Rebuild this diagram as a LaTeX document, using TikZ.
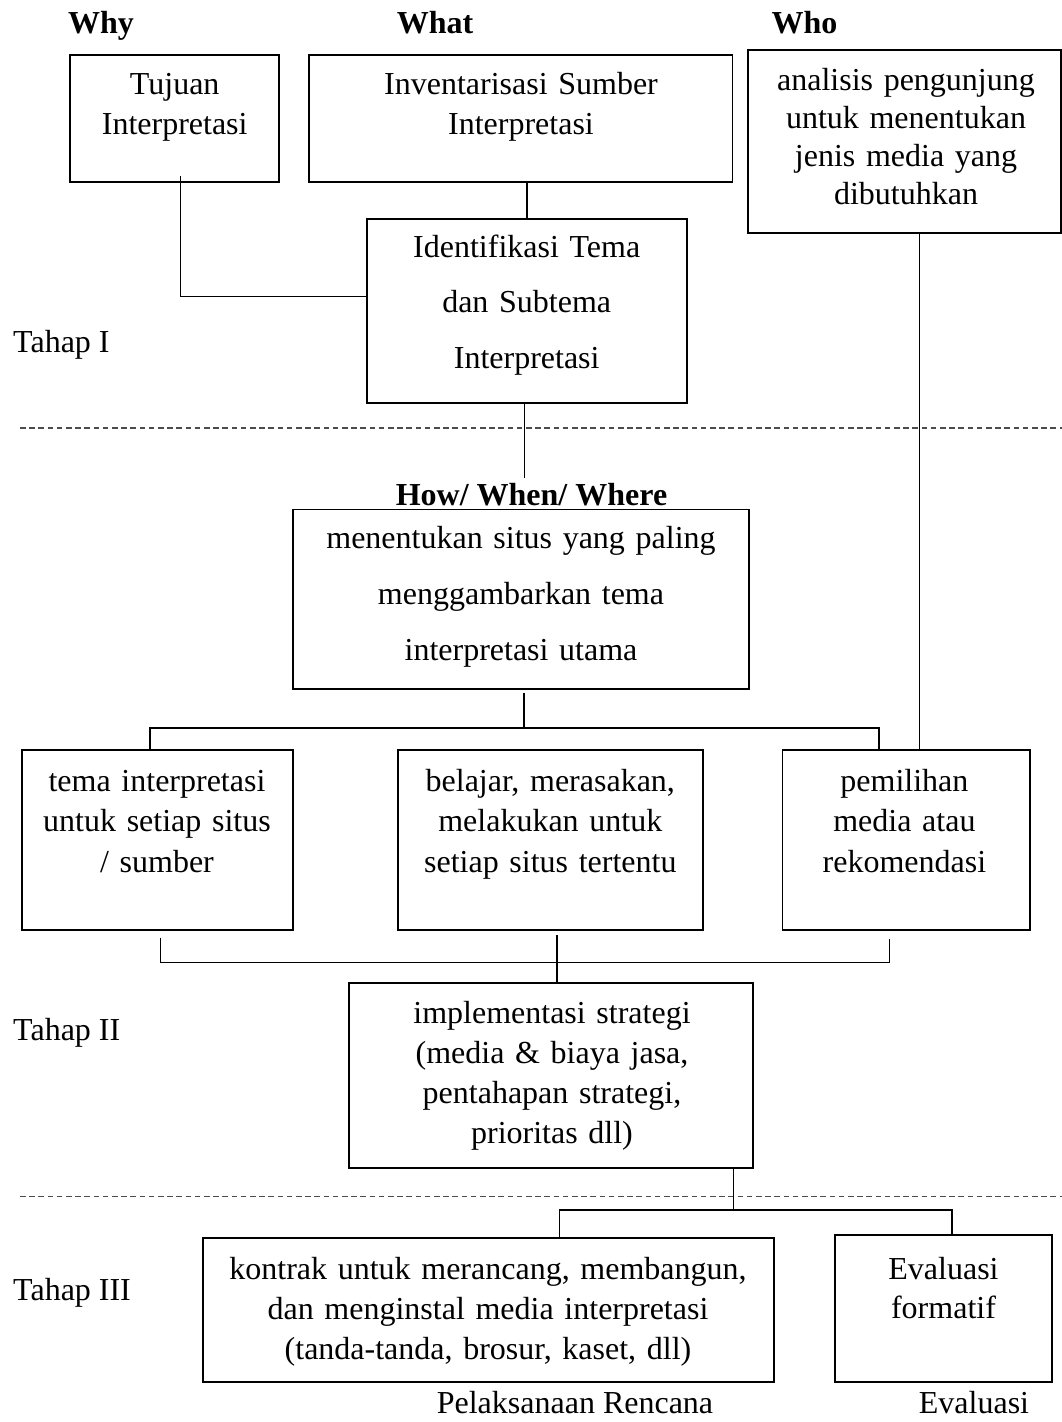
\documentclass[tikz,border=0pt]{standalone}
\usepackage{fontspec}
\setmainfont{Liberation Serif}
\usetikzlibrary{calc}
\begin{document}
\begin{tikzpicture}[x=1pt,y=-1pt,
  box/.style={draw=black, line width=1.8pt, inner sep=0pt, rectangle},
  tx/.style={anchor=base, inner sep=0pt, text width=560pt, align=center, font=\fontsize{32}{#1}\selectfont},
  lbl/.style={anchor=base, inner sep=0pt, font=\fontsize{32}{38}\selectfont},
  hd/.style={anchor=base, inner sep=0pt, font=\fontsize{32}{38}\selectfont\bfseries},
  conn/.style={draw=black, line width=1.2pt},
  dashline/.style={draw=black!70, line width=1.6pt, dash pattern=on 5.5pt off 3.7pt}]
\useasboundingbox (0,0) rectangle (1062,1422);
\fill[white] (0,0) rectangle (1062,1422);

% headings
\node[hd] (why) at (101,33.3) {Why};
\node[hd] (what) at (435,33.3) {What};
\node[hd] (whoh) at (804.5,33.3) {Who};
\node[hd, inner sep=5pt] (how) at (531.5,505) {How/ When/ Where};

% boxes
\node[box, minimum width=209.3pt, minimum height=126.7pt] (tuj) at (174.7,118.4) {};
\node[box, minimum width=423.6pt, minimum height=126.7pt] (inv) at (520.7,118.4) {};
\node[box, minimum width=313pt, minimum height=183.3pt] (who) at (904.5,141.7) {};
\node[box, minimum width=320pt, minimum height=184pt] (iden) at (526.7,311.3) {};
\node[box, minimum width=456pt, minimum height=179.5pt] (men) at (521,599.3) {};
\node[box, minimum width=271pt, minimum height=180pt] (tl) at (157.2,840) {};
\node[box, minimum width=304.9pt, minimum height=180pt] (mid) at (550.2,840) {};
\node[box, minimum width=247.3pt, minimum height=180pt] (pem) at (906.2,840) {};
\node[box, minimum width=404pt, minimum height=184.7pt] (impl) at (551,1075.4) {};
\node[box, minimum width=570.7pt, minimum height=144pt] (kon) at (488.4,1309.7) {};
\node[box, minimum width=217pt, minimum height=146.7pt] (eva) at (943.5,1308.4) {};

% box texts
\node[tx=40] (tujT) at (174.7,94) {Tujuan\\Interpretasi};
\node[tx=40] (invT) at (521,94) {Inventarisasi Sumber\\Interpretasi};
\node[tx=38] (whoT) at (906,90) {analisis pengunjung\\untuk menentukan\\jenis media yang\\dibutuhkan};
\node[tx=55.5] (idenT) at (526.7,257) {Identifikasi Tema\\dan Subtema\\Interpretasi};
\node[tx=56] (menT) at (521,548) {menentukan situs yang paling\\menggambarkan tema\\interpretasi utama};
\node[tx=40.5] (tlT) at (157,791) {tema interpretasi\\untuk setiap situs\\/ sumber};
\node[tx=40.5] (midT) at (550.3,791) {belajar, merasakan,\\melakukan untuk\\setiap situs tertentu};
\node[tx=40.5] (pemT) at (904.4,791) {pemilihan\\media atau\\rekomendasi};
\node[tx=40.3] (implT) at (552,1023) {implementasi strategi\\(media \& biaya jasa,\\pentahapan strategi,\\prioritas dll)};
\node[tx=40] (konT) at (488,1279) {kontrak untuk merancang, membangun,\\dan menginstal media interpretasi\\(tanda-tanda, brosur, kaset, dll)};
\node[tx=39] (evaT) at (943.5,1279) {Evaluasi\\formatif};

% side and bottom labels
\node[lbl, anchor=base west] (t1) at (13,352) {Tahap I};
\node[lbl, anchor=base west] (t2) at (13,1040) {Tahap II};
\node[lbl, anchor=base west] (t3) at (13,1300) {Tahap III};
\node[lbl, text depth=0pt] (pel) at (575,1413) {Pelaksanaan Rencana};
\node[lbl, text depth=0pt] (evl) at (974,1413) {Evaluasi};

% dashed separators
\coordinate (d1a) at (20,427.7);
\coordinate (d1b) at (1062,427.7);
\coordinate (d2a) at (20,1196.3);
\coordinate (d2b) at (1062,1196.3);
\draw[dashline] (d1a) -- (d1b);
\draw[dashline] (d2a) -- (d2b);

% connector coordinates
\coordinate (vA) at (180.8,296.7);
\coordinate (vB) at (526.9,200);
\coordinate (vC) at (524.5,450);
\coordinate (vW) at (919.5,500);
\coordinate (h1) at (524,728);
\coordinate (hL) at (150,728);
\coordinate (hR) at (879,728);
\coordinate (h2) at (557,962.7);
\coordinate (h2L) at (160.6,962.7);
\coordinate (h2R) at (889.6,962.7);
\coordinate (h3) at (733.7,1210);
\coordinate (h3L) at (559.6,1210);
\coordinate (h3R) at (952,1210);

% connectors
\draw[conn] (tuj.south -| vA) ++(0,-6.7) |- (iden.west |- vA);
\draw[conn] (inv.south -| vB) -- (iden.north -| vB);
\draw[conn] (iden.south -| vC) -- (how.north -| vC);
\draw[conn] (who.south -| vW) -- (pem.north -| vW);
\draw[conn, shorten <=3pt] (men.south -| h1) -- (h1);
\draw[conn] (tl.north -| hL) |- (hR) -- (pem.north -| hR);
\draw[conn, shorten <=6.6pt] (tl.south -| h2L) |- (h2R);
\draw[conn, shorten <=7.7pt] (pem.south -| h2R) -- (h2R);
\draw[conn, shorten <=4pt] (mid.south -| h2) -- (impl.north -| h2);
\draw[conn] (impl.south -| h3) -- (h3);
\draw[conn] (kon.north -| h3L) |- (h3R) -- (eva.north -| h3R);
\end{tikzpicture}
\end{document}
